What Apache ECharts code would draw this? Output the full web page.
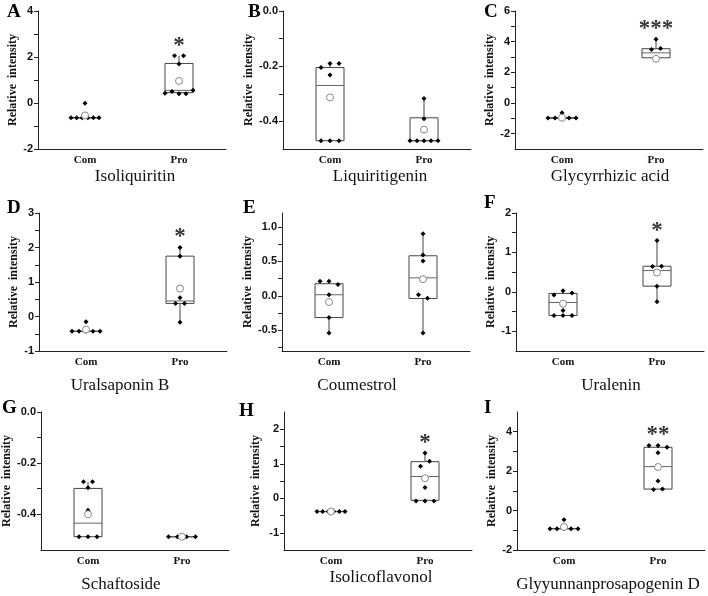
<!DOCTYPE html>
<html>
<head>
<meta charset="utf-8">
<script src="https://cdn.jsdelivr.net/npm/echarts@6/dist/echarts.min.js"></script>
<style>
html, body { margin: 0; background: #fff; }
#main { width: 708px; height: 596px; }
</style>
</head>
<body>
<div id="main"></div>
<script>
// ---- data ----
var groups = ['Com', 'Pro'];
var letters = ['A', 'B', 'C', 'D', 'E', 'F', 'G', 'H', 'I'];
var titles = ['Isoliquiritin', 'Liquiritigenin', 'Glycyrrhizic acid',
              'Uralsaponin B', 'Coumestrol', 'Uralenin',
              'Schaftoside', 'Isolicoflavonol', 'Glyyunnanprosapogenin D'];
var stars = ['*', '', '***', '*', '', '*', '', '*', '**'];

var yMin = [-2, -0.5, -3, -1, -0.8, -1.5, -0.54, -1.5, -2];
var yMax = [4, 0, 6, 3, 1.2, 2, 0, 2.5, 5];
var yLabels = [
    [-2, 0, 2, 4],
    [-0.4, -0.2, 0],
    [-2, 0, 2, 4, 6],
    [-1, 0, 1, 2, 3],
    [-0.5, 0, 0.5, 1],
    [-1, 0, 1, 2],
    [-0.4, -0.2, 0],
    [-1, 0, 1, 2],
    [-2, 0, 2, 4]
];
var yMinorTicks = [
    [-1, 1, 3],
    [-0.3, -0.1],
    [-1, 1, 3, 5],
    [-0.5, 0.5, 1.5, 2.5],
    [-0.75, -0.25, 0.25, 0.75],
    [-0.5, 0.5, 1.5],
    [-0.3, -0.1],
    [-0.5, 0.5, 1.5],
    [-1, 1, 3]
];

var comPoints = [
    [-0.64, -0.64, -0.64, -0.64, -0.64, -0.64, -0.01],
    [-0.205, -0.19, -0.19, -0.232, -0.47, -0.47, -0.47],
    [-0.98, -0.98, -0.98, -0.98, -0.98, -0.63],
    [-0.43, -0.43, -0.43, -0.43, -0.43, -0.15],
    [0.21, 0.21, 0.165, 0.015, -0.315, -0.54],
    [-0.08, 0.03, -0.03, -0.47, -0.6, -0.6, -0.6],
    [-0.273, -0.273, -0.296, -0.384, -0.488, -0.488, -0.488],
    [-0.386, -0.386, -0.386, -0.386, -0.386, -0.386],
    [-0.92, -0.92, -0.92, -0.92, -0.92, -0.46]
];
var proPoints = [
    [2.05, 2.05, 1.7, 0.42, 0.5, 0.4, 0.4, 0.55],
    [-0.317, -0.39, -0.47, -0.47, -0.47, -0.47, -0.47],
    [3.49, 4.15, 3.56],
    [2.0, 1.75, 0.54, 0.38, 0.38, -0.17],
    [0.9, 0.505, 0.59, 0.015, -0.035, -0.54],
    [1.3, 0.64, 0.65, 0.48, 0.145, -0.25],
    [-0.488, -0.488, -0.488, -0.488],
    [1.31, 0.93, 1.07, 0.31, -0.077, -0.077, -0.077],
    [3.3, 3.3, 3.21, 2.93, 1.5, 1.07, 1.1]
];
// [min, q1, median, q3, max]
var comBox = [
    [-0.64, -0.64, -0.64, -0.64, -0.64],
    [-0.47, -0.47, -0.27, -0.205, -0.19],
    [-0.98, -0.98, -0.98, -0.98, -0.98],
    [-0.43, -0.43, -0.43, -0.43, -0.43],
    [-0.54, -0.315, 0.015, 0.175, 0.21],
    [-0.6, -0.6, -0.27, -0.04, 0.03],
    [-0.488, -0.488, -0.435, -0.299, -0.273],
    [-0.386, -0.386, -0.386, -0.386, -0.386],
    [-0.92, -0.92, -0.92, -0.92, -0.92]
];
var proBox = [
    [0.4, 0.45, 0.55, 1.72, 2.05],
    [-0.47, -0.47, -0.47, -0.387, -0.317],
    [2.95, 2.95, 3.27, 3.54, 4.15],
    [-0.17, 0.38, 0.45, 1.75, 2.0],
    [-0.54, -0.04, 0.26, 0.58, 0.9],
    [-0.25, 0.145, 0.54, 0.65, 1.3],
    [-0.488, -0.488, -0.488, -0.488, -0.488],
    [-0.077, -0.06, 0.63, 1.06, 1.31],
    [1.07, 1.09, 2.23, 3.21, 3.3]
];
var comMean = [-0.54, -0.313, -0.96, -0.38, -0.09, -0.3, -0.4, -0.386, -0.83];
var proMean = [0.96, -0.43, 2.88, 0.81, 0.24, 0.49, -0.488, 0.58, 2.21];

// ---- layout ----
var gridLeft = [38, 283, 515, 39, 282, 516, 41, 284, 517];
var gridTop = [11, 11, 11, 213, 213, 213, 412, 412, 412];
var nameGap = [15, 22, 10, 16, 21, 10, 23, 22, 12];
var titleX = [135, 380, 610, 120, 357, 611, 121, 381, 608];
var titleY = [177, 177, 177, 386, 386, 386, 585, 578, 585];
var letterX = [7, 248, 484, 7, 243, 484, 2, 239, 484];
var letterY = [12, 12, 12, 208, 208, 203, 408, 411, 408];

var dom = document.getElementById('main');
var myChart = echarts.init(dom);

// spread dots that sit at (nearly) the same height side by side
function spreadDots(vals, gi, range) {
    var tol = range * 0.036;
    var clusters = [];
    var which = [];
    vals.forEach(function (v) {
        var c = -1;
        for (var k = 0; k < clusters.length; k++) {
            if (Math.abs(clusters[k].v - v) < tol) { c = k; break; }
        }
        if (c < 0) { clusters.push({v: v, n: 0}); c = clusters.length - 1; }
        which.push([c, clusters[c].n]);
        clusters[c].n++;
    });
    return vals.map(function (v, j) {
        var n = clusters[which[j][0]].n;
        var step = n > 1 ? Math.min(9, 28 / (n - 1)) : 0;
        var dx = (which[j][1] - (n - 1) / 2) * step;
        return {value: [gi, v], symbolOffset: [dx, 0]};
    });
}

function renderBox(params, api) {
    var x = api.value(0);
    var lo = api.coord([x, api.value(1)]);
    var q1 = api.coord([x, api.value(2)]);
    var md = api.coord([x, api.value(3)]);
    var q3 = api.coord([x, api.value(4)]);
    var hi = api.coord([x, api.value(5)]);
    var w = 28;
    var st = {stroke: '#444', lineWidth: 1, fill: null};
    return {
        type: 'group',
        children: [
            {type: 'line', shape: {x1: lo[0], y1: lo[1], x2: q1[0], y2: q1[1]}, style: st},
            {type: 'line', shape: {x1: hi[0], y1: hi[1], x2: q3[0], y2: q3[1]}, style: st},
            {type: 'rect', shape: {x: q3[0] - w / 2, y: q3[1], width: w, height: q1[1] - q3[1]},
             style: {stroke: '#444', lineWidth: 1, fill: '#fff'}},
            {type: 'line', shape: {x1: md[0] - w / 2, y1: md[1], x2: md[0] + w / 2, y2: md[1]},
             style: {stroke: '#666', lineWidth: 1}}
        ]
    };
}

var option = {
    animation: false,
    backgroundColor: '#fff',
    grid: [],
    xAxis: [],
    yAxis: [],
    series: [],
    graphic: []
};

for (var i = 0; i < 9; i++) {
    var range = yMax[i] - yMin[i];
    var decimals = yLabels[i].some(function (v) { return Math.round(v) !== v; }) ? 1 : 0;
    option.grid.push({left: gridLeft[i], top: gridTop[i], width: 188, height: 138});
    option.xAxis.push({
        type: 'category',
        gridIndex: i,
        data: groups,
        axisLine: {onZero: false, lineStyle: {color: '#222', width: 1}},
        axisTick: {alignWithLabel: true, length: 4, lineStyle: {color: '#222'}},
        axisLabel: {
            margin: 6,
            color: '#111',
            fontFamily: 'Liberation Serif',
            fontWeight: 'bold',
            fontSize: 11
        }
    });
    option.yAxis.push({
        type: 'value',
        gridIndex: i,
        min: yMin[i],
        max: yMax[i],
        name: 'Relative  intensity',
        nameLocation: 'middle',
        nameGap: nameGap[i],
        nameTextStyle: {
            color: '#111',
            fontFamily: 'Liberation Serif',
            fontWeight: 'bold',
            fontSize: 12
        },
        axisLine: {show: true, onZero: false, lineStyle: {color: '#222', width: 1}},
        axisTick: {
            show: true,
            length: 4,
            lineStyle: {color: '#222'},
            customValues: yLabels[i].concat(yMinorTicks[i])
        },
        axisLabel: {
            margin: 5,
            color: '#111',
            fontFamily: 'Liberation Sans',
            fontWeight: 'bold',
            fontSize: 11,
            customValues: yLabels[i],
            formatter: (function (d) {
                return function (v) { return v.toFixed(d); };
            })(decimals)
        },
        splitLine: {show: false}
    });

    option.series.push({
        type: 'custom',
        xAxisIndex: i,
        yAxisIndex: i,
        renderItem: renderBox,
        encode: {x: 0, y: [1, 2, 3, 4, 5]},
        z: 2,
        data: [[0].concat(comBox[i]), [1].concat(proBox[i])]
    });
    option.series.push({
        type: 'scatter',
        xAxisIndex: i,
        yAxisIndex: i,
        symbol: 'diamond',
        symbolSize: 5,
        itemStyle: {color: '#000', opacity: 1},
        z: 3,
        data: spreadDots(comPoints[i], 0, range).concat(spreadDots(proPoints[i], 1, range))
    });
    option.series.push({
        type: 'scatter',
        xAxisIndex: i,
        yAxisIndex: i,
        symbol: 'circle',
        symbolSize: 7,
        itemStyle: {color: '#fff', borderColor: '#888', borderWidth: 1, opacity: 1},
        z: 4,
        data: [[0, comMean[i]], [1, proMean[i]]]
    });
    if (stars[i]) {
        option.series.push({
            type: 'scatter',
            xAxisIndex: i,
            yAxisIndex: i,
            symbolSize: 1,
            itemStyle: {color: 'rgba(0,0,0,0)'},
            z: 5,
            label: {
                show: true,
                position: 'inside',
                offset: [0, -10],
                formatter: stars[i],
                color: '#000',
                fontFamily: 'Liberation Serif',
                fontWeight: 'bold',
                fontSize: 23
            },
            data: [[1, proBox[i][4]]]
        });
    }

    option.graphic.push({
        type: 'text',
        x: titleX[i],
        y: titleY[i],
        style: {
            text: titles[i],
            textAlign: 'center',
            textVerticalAlign: 'middle',
            fill: '#111',
            font: '17px "Liberation Serif"'
        }
    });
    option.graphic.push({
        type: 'text',
        x: letterX[i],
        y: letterY[i],
        style: {
            text: letters[i],
            textAlign: 'left',
            textVerticalAlign: 'middle',
            fill: '#000',
            font: 'bold 19px "Liberation Serif"'
        }
    });
}

myChart.setOption(option, true);
window.onresize = myChart.resize;
</script>
</body>
</html>
